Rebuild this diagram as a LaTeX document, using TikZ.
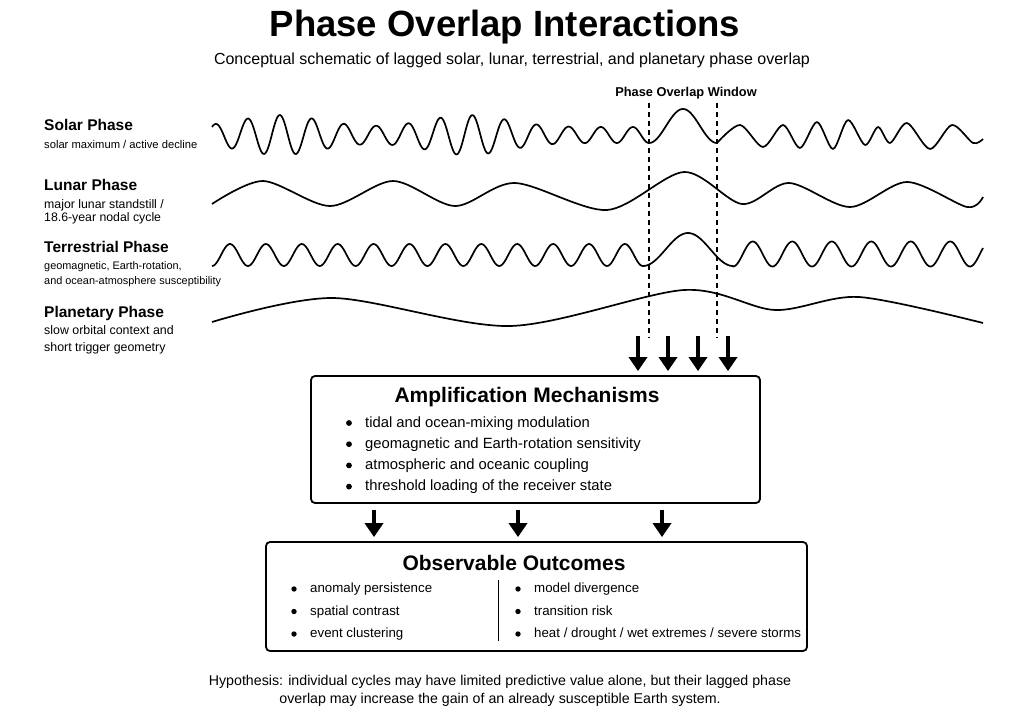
\documentclass[tikz,border=0pt]{standalone}
\usepackage{fontspec}
\setmainfont{Liberation Sans}
\usetikzlibrary{arrows.meta, positioning, calc}

\tikzset{
  wave/.style={line width=1.7pt, line join=round},
  window/.style={line width=1.1pt, dash pattern=on 5pt off 4pt},
  bigarrow/.style={line width=3.8pt, -{Triangle[length=14pt,width=18pt]}},
  panel/.style={draw, line width=1.8pt, rounded corners=4pt, inner sep=0pt},
  phasename/.style={anchor=west, inner sep=0pt, font=\bfseries\fontsize{15.5}{18}\selectfont},
  phasenote/.style 2 args={anchor=west, align=left, inner sep=0pt, font=\fontsize{#1}{#2}\selectfont},
  paneltitle/.style={inner sep=0pt, font=\bfseries\fontsize{21}{24}\selectfont},
  ampitem/.style={anchor=base west, inner sep=0pt, font=\fontsize{14.8}{18}\selectfont},
  obsitem/.style={anchor=base west, inner sep=0pt, font=\fontsize{13.3}{16}\selectfont}
}

\begin{document}
\begin{tikzpicture}[x=1pt,y=-1pt]
\useasboundingbox (0,0) rectangle (1024,725);

% title
\node[font=\bfseries\fontsize{36.5}{40}\selectfont] (title) at (505,27) {Phase Overlap Interactions};
\node[font=\fontsize{16}{19}\selectfont] (subtitle) at (512,60) {Conceptual schematic of lagged solar, lunar, terrestrial, and planetary phase overlap};

% phase labels
\node[phasename] (solar) at (44,125) {Solar Phase};
\node[phasenote={11.2}{14}] (solarnote) at (44,144) {solar maximum / active decline};
\node[phasename] (lunar) at (44,185) {Lunar Phase};
\node[phasenote={12.3}{13.5}] (lunarnote) at (44,212) {major lunar standstill /\\18.6-year nodal cycle};
\node[phasename] (terr) at (44,247) {Terrestrial Phase};
\node[phasenote={10.9}{15}] (terrnote) at (44,274) {geomagnetic, Earth-rotation,\\and ocean-atmosphere susceptibility};
\node[phasename] (plan) at (44,313) {Planetary Phase};
\node[phasenote={12.4}{16.7}] (plannote) at (44,340) {slow orbital context and\\short trigger geometry};

% waves
\draw[wave] plot[domain=212:649, samples=360] (\x,{135 - (8 + 12*exp(-min(((\x-280)/55)^2,20)) + 12*exp(-min(((\x-468)/55)^2,20)))*sin((\x-247.7)/32.1*360+90)})
  -- plot[domain=649:717, samples=60] (\x,{143 - 17*(1-cos((\x-649)/68*360))})
  -- plot[smooth] coordinates {(717,143) (740,125) (763,147) (783,125) (800,148) (817,122) (833,149) (848,120) (865,145) (878,127) (890,143) (907,123) (930,149) (952,125) (973,143) (983,139)};
\draw[wave] plot[smooth] coordinates {(212,204) (263,181) (330,206) (393,181) (455,206) (515,183) (607,210) (684,172) (742,204) (789,183) (850,207) (907,182) (967,207) (983,197)};
\draw[wave] plot[domain=212:643, samples=300] (\x,{255 - 11*sin((\x-230)/35.9*360+90)})
  -- plot[domain=643:733, samples=60] (\x,{266 - 16.5*(1-cos((\x-643)/90*360))})
  -- plot[domain=733:983, samples=200] (\x,{254 - 12.5*sin((\x-752.75)/39.5*360+90)});
\draw[wave] plot[smooth] coordinates {(212,322) (333,298) (510,326) (684,290) (775,310) (859,297) (983,323)};

% overlap window
\node[inner sep=0pt, font=\bfseries\fontsize{12.8}{15}\selectfont] (wlabel) at (686,93) {Phase Overlap Window};
\coordinate (wltop) at (649,103);
\coordinate (wlbot) at (649,338);
\coordinate (wrtop) at (717,103);
\coordinate (wrbot) at (717,338);
\draw[window] (wltop) -- (wlbot);
\draw[window] (wrtop) -- (wrbot);

% boxes
\node[panel, minimum width=449, minimum height=127] (amp) at (535.5,439.5) {};
\node[paneltitle] (amptitle) at (527,397) {Amplification Mechanisms};
\foreach \t [count=\i] in {tidal and ocean-mixing modulation, geomagnetic and Earth-rotation sensitivity, atmospheric and oceanic coupling, threshold loading of the receiver state} {
  \fill (349,{423+21.2*(\i-1)}) circle (2.9pt);
  \node[ampitem] (amp\i) at (365,{427+21.2*(\i-1)}) {\t};
}

\node[panel, minimum width=541, minimum height=109] (obs) at (536.5,596.5) {};
\node[paneltitle] (obstitle) at (514,563) {Observable Outcomes};
\foreach \t [count=\i] in {anomaly persistence, spatial contrast, event clustering} {
  \fill (294,{589+22.5*(\i-1)}) circle (2.7pt);
  \node[obsitem] (obsl\i) at (310,{592.5+22.5*(\i-1)}) {\t};
}
\foreach \t [count=\i] in {model divergence, transition risk, heat / drought / wet extremes / severe storms} {
  \fill (518,{589+22.5*(\i-1)}) circle (2.7pt);
  \node[obsitem] (obsr\i) at (534,{592.5+22.5*(\i-1)}) {\t};
}
\coordinate (dtop) at (498,580);
\coordinate (dbot) at (498,641);
\draw[line width=1pt] (dtop) -- (dbot);

% arrows
\foreach \ax [count=\i] in {638,668,698,728} {
  \coordinate (t\i) at (\ax,336);
  \draw[bigarrow, shorten >=4pt] (t\i) -- (t\i |- amp.north);
}
\foreach \ax [count=\i] in {374,518,662} {
  \coordinate (m\i) at (\ax,520);
  \draw[bigarrow, shorten <=6pt, shorten >=4pt] (m\i |- amp.south) -- (m\i |- obs.north);
}

% hypothesis
\node[align=center, font=\fontsize{14.2}{18}\selectfont] (hypo) at (500,691) {Hypothesis: individual cycles may have limited predictive value alone, but their lagged phase\\overlap may increase the gain of an already susceptible Earth system.};
\end{tikzpicture}
\end{document}
